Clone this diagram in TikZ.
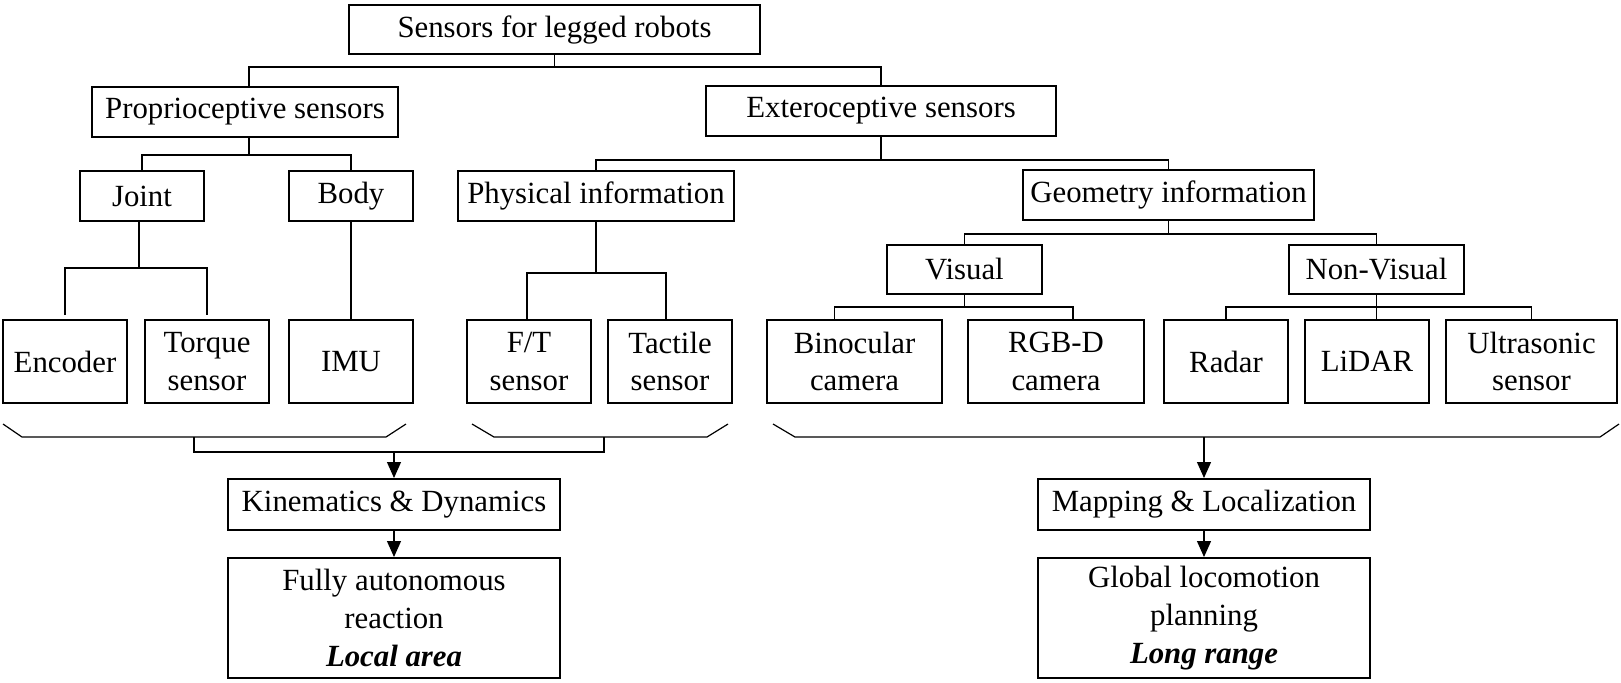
\documentclass[tikz,border=0pt]{standalone}
\usepackage{fontspec}
\setmainfont{Liberation Serif}
\usetikzlibrary{fit,arrows.meta}
\newcommand\mybox[3]{\node[box,fit={#2}] (#1) {};\node[txt] (#1-t) at (#1.center) {#3};}
\begin{document}
\begin{tikzpicture}[x=0.5pt,y=-0.5pt,
  box/.style={draw,line width=1pt,inner sep=0pt},
  txt/.style={inner sep=0pt,align=center,font=\fontsize{15.4}{18.8}\selectfont},
  conn/.style={line width=0.6pt},
  arr/.style={conn,-{Triangle[width=7pt,length=8pt]}}]
\useasboundingbox (0,0) rectangle (1621,682);
% level 0-1
\mybox{root}{(349,5)(760,54)}{Sensors for legged robots}
\mybox{prop}{(92,87)(398,137)}{Proprioceptive sensors}
\mybox{ext}{(706,86)(1056,136)}{Exteroceptive sensors}
% level 2
\mybox{joint}{(80,171)(204,221)}{Joint}
\mybox{body}{(289,171)(413,221)}{Body}
\mybox{phys}{(458,171)(734,221)}{Physical information}
\mybox{geom}{(1023,170)(1314,220)}{Geometry information}
\mybox{visual}{(887,245)(1042,294)}{Visual}
\mybox{nonvis}{(1289,245)(1464,294)}{Non-Visual}
% leaves
\mybox{enc}{(3,320)(127,403)}{Encoder}
\mybox{torque}{(145,320)(269,403)}{Torque\\sensor}
\mybox{imu}{(289,320)(413,403)}{IMU}
\mybox{ft}{(467,320)(591,403)}{F/T\\sensor}
\mybox{tactile}{(608,320)(732,403)}{Tactile\\sensor}
\mybox{bino}{(767,320)(942,403)}{Binocular\\camera}
\mybox{rgbd}{(968,320)(1144,403)}{RGB-D\\camera}
\mybox{radar}{(1164,320)(1288,403)}{Radar}
\mybox{lidar}{(1305,320)(1429,403)}{LiDAR}
\mybox{ultra}{(1446,320)(1617,403)}{Ultrasonic\\sensor}
% bottom
\mybox{kin}{(228,479)(560,530)}{Kinematics \& Dynamics}
\mybox{fully}{(228,558)(560,678)}{Fully autonomous\\reaction\\\textbf{\textit{Local area}}}
\mybox{map}{(1038,479)(1370,530)}{Mapping \& Localization}
\mybox{glob}{(1038,558)(1370,678)}{Global locomotion\\planning\\\textbf{\textit{Long range}}}
% tree connectors
\draw[conn] (root.south) -- ++(0,12) coordinate (r1);
\draw[conn] ([xshift=2pt]prop.north) |- (r1) -| (ext.north);
\draw[conn] ([xshift=2pt]prop.south) -- ++(0,17) coordinate (p1);
\draw[conn] (joint.north) |- (p1) -| (body.north);
\draw[conn] ([xshift=-1.5pt]joint.south) -- ++(0,46) coordinate (j1);
\draw[conn] ([yshift=2pt]enc.north) |- (j1) -| ([yshift=2pt]torque.north);
\draw[conn] (body.south) -- (imu.north);
\draw[conn] (ext.south) -- ++(0,23) coordinate (e1);
\draw[conn] (phys.north) |- (e1) -| (geom.north);
\draw[conn] (phys.south) -- ++(0,51) coordinate (f1);
\draw[conn] ([xshift=-1pt]ft.north) |- (f1) -| ([xshift=-2pt]tactile.north);
\draw[conn] (geom.south) -- ++(0,13) coordinate (g1);
\draw[conn] (visual.north) |- (g1) -| (nonvis.north);
\draw[conn] (visual.south) -- ++(0,12) coordinate (v1);
\draw[conn] ([xshift=-10pt]bino.north) |- (v1) -| ([xshift=8.5pt]rgbd.north);
\draw[conn] (nonvis.south) -- ++(0,12) coordinate (n1) -- (nonvis.south |- lidar.north);
\draw[conn] (radar.north) |- (n1) -| (ultra.north);
% brackets
\draw[conn] (3,424) -- (22,437) -- (386,437) -- (406,424);
\draw[conn] (472,424) -- (494,437) -- (707,437) -- (728,424);
\draw[conn] (773,424) -- (795,437) -- (1600,437) -- (1619,424);
\coordinate (b1) at (194,437);
\coordinate (b2) at (604,437);
\coordinate (b3) at (1204,437);
\draw[conn] (b1) -- ++(0,15) coordinate (b1d) -| (b2);
\draw[arr] (kin.north |- b1d) -- (kin.north);
\draw[arr] (map.north |- b3) -- (map.north);
\draw[arr] (kin.south) -- (fully.north);
\draw[arr] (map.south) -- (glob.north);
\end{tikzpicture}
\end{document}
